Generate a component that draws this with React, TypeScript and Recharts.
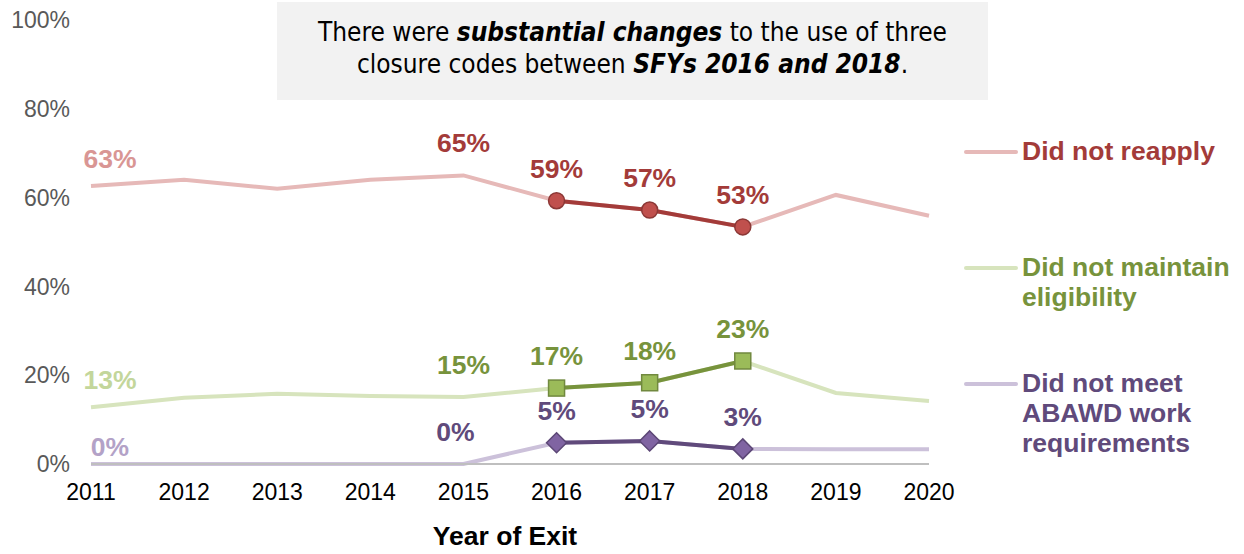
import { LineChart, Line, XAxis, YAxis, LabelList } from 'recharts';

const years = ['2011', '2012', '2013', '2014', '2015', '2016', '2017', '2018', '2019', '2020'];
const didNotReapply = [62.6, 64.0, 62.0, 64.0, 65.0, 59.3, 57.2, 53.4, 60.6, 55.9];
const didNotMaintain = [12.8, 14.9, 15.8, 15.3, 15.1, 17.1, 18.3, 23.2, 16.0, 14.2];
const didNotMeetAbawd = [0, 0, 0, 0, 0, 4.8, 5.2, 3.4, 3.3, 3.3];
const focusYears = ['2016', '2017', '2018'];
const labeledYears = ['2011', '2015', '2016', '2017', '2018'];
const yTicks = [0, 20, 40, 60, 80, 100];

const data = years.map((year, i) => {
  const inFocus = focusYears.includes(year);
  return {
    year,
    reapply: didNotReapply[i],
    maintain: didNotMaintain[i],
    abawd: didNotMeetAbawd[i],
    reapplyFocus: inFocus ? didNotReapply[i] : null,
    maintainFocus: inFocus ? didNotMaintain[i] : null,
    abawdFocus: inFocus ? didNotMeetAbawd[i] : null,
  };
});

const FONT = '"Liberation Sans", Arial, sans-serif';

const series = [
  { key: 'reapply', light: '#e6b9b8', dark: '#a33b39', labelLight: '#d99694', fill: '#c0504d', stroke: '#8c3836', shape: 'circle', legend: ['Did not reapply'] },
  { key: 'maintain', light: '#d7e4bd', dark: '#77933c', labelLight: '#c3d69b', fill: '#9bbb59', stroke: '#71893f', shape: 'square', legend: ['Did not maintain', 'eligibility'] },
  { key: 'abawd', light: '#ccc1da', dark: '#604a7b', labelLight: '#b3a2c7', fill: '#8064a2', stroke: '#5c4776', shape: 'diamond', legend: ['Did not meet', 'ABAWD work', 'requirements'] },
];

const makeDot = (s: any) => (props: any) => {
  const { cx, cy, index, value } = props;
  if (value == null || cy == null || isNaN(cy)) return <g key={`d-${s.key}-${index}`} />;
  if (s.shape === 'circle') {
    return <circle key={`d-${s.key}-${index}`} cx={cx} cy={cy} r={8} fill={s.fill} stroke={s.stroke} strokeWidth={1.5} />;
  }
  if (s.shape === 'square') {
    return <rect key={`d-${s.key}-${index}`} x={cx - 8} y={cy - 8} width={16} height={16} fill={s.fill} stroke={s.stroke} strokeWidth={1.5} />;
  }
  return (
    <polygon
      key={`d-${s.key}-${index}`}
      points={`${cx},${cy - 10} ${cx + 10},${cy} ${cx},${cy + 10} ${cx - 10},${cy}`}
      fill={s.fill}
      stroke={s.stroke}
      strokeWidth={1.5}
    />
  );
};

const makeLabel = (s: any) => (props: any) => {
  const { x, y, value, index } = props;
  const year = years[index];
  if (!labeledYears.includes(year)) return null;
  const first = year === '2011';
  let dx = first ? 19 : 0;
  let dy = first ? -27 : -32;
  if (s.key === 'abawd' && first) dy = -17;
  if (s.key === 'abawd' && year === '2015') dx = -8;
  return (
    <text
      key={`l-${s.key}-${index}`}
      x={x + dx}
      y={y + dy}
      textAnchor="middle"
      dominantBaseline="central"
      fontFamily={FONT}
      fontWeight="bold"
      fontSize={26.5}
      fill={first ? s.labelLight : s.dark}
    >
      {`${Math.round(value)}%`}
    </text>
  );
};

const LegendBlock = () => (
  <div style={{ position: 'absolute', left: 964, top: 136, width: 280, height: 330 }}>
    {series.map((s, i) => (
      <div key={s.key} style={{ position: 'absolute', left: 0, top: [0, 116, 232][i], display: 'flex', alignItems: 'flex-start' }}>
        <div style={{ width: 54, height: 4, borderRadius: 2, background: s.light, marginTop: 14, marginRight: 4 }} />
        <div style={{ fontFamily: FONT, fontWeight: 'bold', fontSize: 26.5, lineHeight: '30px', color: s.dark, whiteSpace: 'nowrap' }}>
          {s.legend.map((t) => (
            <div key={t}>{t}</div>
          ))}
        </div>
      </div>
    ))}
  </div>
);

export default function App() {
  return (
    <div style={{ position: 'absolute', left: 0, top: 0, width: 1244, height: 554, background: '#fff' }}>
      <LineChart width={1244} height={554} data={data} margin={{ top: 20, right: 315, bottom: 0, left: 0 }}>
        <XAxis
          dataKey="year"
          axisLine={{ stroke: '#bfbfbf', strokeWidth: 2 }}
          tickLine={false}
          height={90}
          tickMargin={14}
          tick={{ fontFamily: FONT, fontSize: 23, fill: '#000' }}
          interval={0}
          label={{ value: 'Year of Exit', position: 'insideBottom', offset: 9, fontFamily: FONT, fontWeight: 'bold', fontSize: 26.5, fill: '#000', dx: -5 }}
        />
        <YAxis
          domain={[0, 100]}
          ticks={yTicks}
          axisLine={false}
          tickLine={false}
          width={91}
          tickMargin={15}
          tickFormatter={(v) => `${v}%`}
          tick={{ fontFamily: FONT, fontSize: 23, fill: '#595959' }}
        />
        {series.map((s) => (
          <Line
            key={s.key}
            dataKey={s.key}
            stroke={s.light}
            strokeWidth={4}
            dot={false}
            activeDot={false}
            isAnimationActive={false}
          >
            <LabelList dataKey={s.key} content={makeLabel(s)} />
          </Line>
        ))}
        {series.map((s) => (
          <Line
            key={`${s.key}Focus`}
            dataKey={`${s.key}Focus`}
            stroke={s.dark}
            strokeWidth={4}
            dot={makeDot(s)}
            activeDot={false}
            isAnimationActive={false}
          />
        ))}
      </LineChart>
      <LegendBlock />
      <div
        style={{
          position: 'absolute',
          left: 277,
          top: 2,
          width: 711,
          height: 98,
          background: '#f2f2f2',
          fontFamily: '"DejaVu Sans Condensed", "Liberation Sans Narrow", sans-serif',
          fontSize: 26,
          lineHeight: '32px',
          color: '#000',
          textAlign: 'center',
          paddingTop: 14,
          boxSizing: 'border-box',
        }}
      >
        There were <b><i>substantial changes</i></b> to the use of three
        <br />
        closure codes between <b><i>SFYs 2016 and 2018</i></b>.
      </div>
    </div>
  );
}
